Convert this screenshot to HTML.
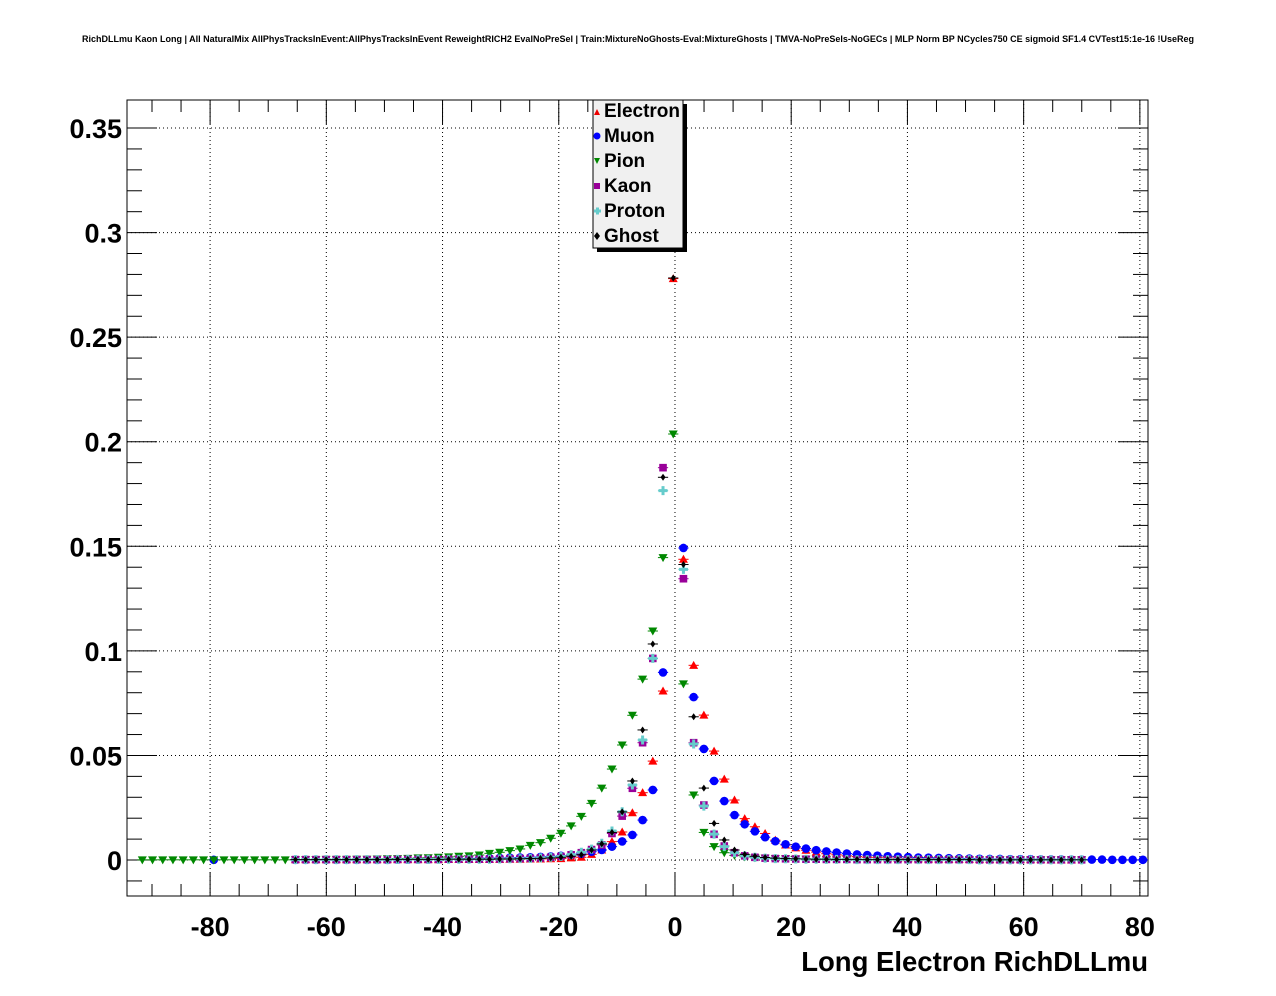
<!DOCTYPE html>
<html><head><meta charset="utf-8"><style>
html,body{margin:0;padding:0;background:#fff}
svg{display:block;font-family:"Liberation Sans",Arial,sans-serif}
</style></head><body>
<svg id="chart" width="1276" height="996" viewBox="0 0 1276 996">
<rect x="0" y="0" width="1276" height="996" fill="#fff"/>
<text x="638" y="42" text-anchor="middle" font-size="9" font-weight="bold">RichDLLmu Kaon Long | All NaturalMix AllPhysTracksInEvent:AllPhysTracksInEvent ReweightRICH2 EvalNoPreSel | Train:MixtureNoGhosts-Eval:MixtureGhosts | TMVA-NoPreSels-NoGECs | MLP Norm BP NCycles750 CE sigmoid SF1.4 CVTest15:1e-16 !UseReg</text>
<g id="grid"></g>
<g id="axes"></g>
<g id="marks"></g>
<text x="1148" y="971" text-anchor="end" font-size="27.5" font-weight="bold">Long Electron RichDLLmu</text>
<g>
<rect x="597" y="104" width="90" height="148" fill="#000"/>
<rect x="593" y="100" width="90" height="148" fill="#f0f0f0" stroke="#000" stroke-width="1"/>
<polygon points="594,115 597,109 600,115" fill="#e00"/>
<text x="604" y="117" font-size="19" font-weight="bold">Electron</text>
<circle cx="597" cy="136" r="3.5" fill="#00f"/>
<text x="604" y="142" font-size="19" font-weight="bold">Muon</text>
<polygon points="594,158 600,158 597,164" fill="#080"/>
<text x="604" y="167" font-size="19" font-weight="bold">Pion</text>
<rect x="594" y="183" width="6" height="6" fill="#909"/>
<text x="604" y="192" font-size="19" font-weight="bold">Kaon</text>
<path d="M594,211 h7 M597.5,207.5 v7" stroke="#6cc" stroke-width="3"/>
<text x="604" y="217" font-size="19" font-weight="bold">Proton</text>
<polygon points="597,232 600,236 597,240 594,236" fill="#000"/>
<text x="604" y="242" font-size="19" font-weight="bold">Ghost</text>
</g>
</svg>
<script>
const xTicks = [-80,-60,-40,-20,0,20,40,60,80];
const yTicks = [0,0.05,0.1,0.15,0.2,0.25,0.3,0.35];
const yTickLabels = ["0","0.05","0.1","0.15","0.2","0.25","0.3","0.35"];
const nBins = 100;
const xMin = -94.3, xMax = 81.4;
const electronStart = 16;
const electron = [.0002,.0002,.0002,.0002,.0002,.0002,.0002,.0002,.0002,.0002,
.0002,.0002,.0002,.0002,.0002,.0003,.0003,.0003,.0003,.0003,
.0003,.0004,.0004,.0005,.0005,.0006,.0007,
.0010,.0013,.0027,.0048,.0088,.0134,.0226,.0322,.0473,.0808,
.2780,.1438,.0931,.0693,.0521,.0387,.0287,.0198,.0159,.0127,
.0095,.0072,.0058,.0047,.0038,.0030,.0025,.0020,.0016,.0013,
.0011,.0010,.0008,.0007,.0006,.0005,.0005,.0004,.0004,.0003,
.0003,.0003,.0002,.0002,.0002,.0002,.0002,.0001,.0001,.0001];
const muonStart = 8;
const muon = [.0001,null,null,null,null,null,null,null,
.0001,.0001,.0001,.0001,.0001,.0001,.0001,.0001,.0001,.0001,
.0002,.0002,.0003,.0003,.0004,
.0005,.0006,.0007,.0008,.0009,.0010,.0011,.0012,.0013,.0015,
.0017,.0020,.0024,.0030,.0040,.0048,.0064,.0089,.0120,.0191,
.0335,.0897,null,
.1492,.0779,.0531,.0378,.0282,.0215,.0171,.0137,.0109,.0090,
.0075,.0064,.0055,.0047,.0041,.0036,.0031,.0027,.0024,.0021,
.0018,.0016,.0014,.0012,.0011,.0010,.0009,.0008,.0007,.0006,
.0005,.0005,.0004,.0004,.0004,.0003,.0003,.0003,.0002,.0002,
.0002,.0002,.0001,.0001,.0001,.0001];
const pionStart = 1;
const pion = [.0001,.0001,.0001,.0001,.0001,.0001,.0001,.0001,.0001,.0001,.0001,.0001,.0001,.0001,.0001,
.0002,.0002,.0002,.0003,.0003,.0003,.0004,.0004,.0005,
.0006,.0007,.0008,.0010,.0011,.0013,.0015,.0018,.0020,.0024,
.0032,.0037,.0045,.0053,.0070,.0083,.0104,.0128,.0163,.0209,
.0271,.0344,.0435,.0550,.0692,.0865,.1095,.1446,.2037,
.0842,.0311,.0132,.0064,.0035,.0022,
.0015,.0011,.0009,.0007,.0006,.0005,.0004,.0004,.0003,.0003,
.0003,.0002,.0002,.0002,.0002,.0002,.0002,.0002,.0002,.0002,
.0002,.0002,.0002,.0001,.0001,.0001,.0001,.0001,.0001,.0001,.0001,.0001,.0001,.0001];
const kaonStart = 16;
const kaon = [.0002,.0002,.0002,.0002,.0002,.0002,.0002,.0002,.0002,.0002,
.0003,.0003,.0003,.0003,.0003,.0004,.0004,.0004,.0004,.0004,
.0005,.0006,.0007,.0008,.0010,.0013,.0017,
.0025,.0035,.0050,.0072,.0127,.0210,.0343,.0561,.0964,.1876,
null,.1345,.0561,.0263,.0123,.0067,.0035,.0020,.0013,.0009,
.0007,.0006,.0005,.0004,.0004,.0003,.0003,.0003,.0002,.0002,
.0002,.0002,.0002,.0002,.0002,.0002,.0002,.0002,.0002,.0002,
.0001,.0001,.0001,.0001,.0001,.0001,.0001,.0001,.0001,.0001,.0001];
const protonStart = 16;
const proton = [.0002,.0002,.0002,.0002,.0002,.0002,.0002,.0002,.0002,.0002,
.0003,.0003,.0003,.0003,.0003,.0004,.0004,.0004,.0004,.0004,
.0005,.0006,.0007,.0008,.0010,.0013,.0017,
.0026,.0037,.0052,.0080,.0139,.0231,.0359,.0574,.0964,.1766,
null,.1390,.0555,.0258,.0124,.0064,.0035,.0020,.0013,.0009,
.0007,.0006,.0005,.0004,.0004,.0003,.0003,.0003,.0002,.0002,
.0002,.0002,.0002,.0002,.0002,.0002,.0002,.0002,.0002,.0002,
.0001,.0001,.0001,.0001,.0001,.0001,.0001,.0001,.0001,.0001,.0001];
const ghostStart = 16;
const ghost = [.0002,.0002,.0002,.0002,.0002,.0002,.0002,.0002,.0002,.0002,
.0003,.0003,.0003,.0003,.0003,.0004,.0004,.0004,.0004,.0004,
.0005,.0005,.0006,.0007,.0008,.0010,.0013,
.0018,.0025,.0048,.0077,.0132,.0230,.0378,.0622,.1033,.1830,
.2783,.1413,.0685,.0344,.0175,.0096,.0048,.0027,.0018,.0012,
.0009,.0007,.0006,.0005,.0004,.0004,.0003,.0003,.0003,.0002,
.0002,.0002,.0002,.0002,.0002,.0002,.0002,.0002,.0002,.0002,
.0001,.0001,.0001,.0001,.0001,.0001,.0001,.0001,.0001,.0001,.0001];

const L=127,R=1148,T=100,B=896;
const yMin=-0.0172,yMax=0.3634;
const xs=v=>L+(v-xMin)/(xMax-xMin)*(R-L);
const ys=v=>B-(v-yMin)/(yMax-yMin)*(B-T);
const binW=(xMax-xMin)/nBins;
const binCenter=i=>xMin+(i+0.5)*binW;
const NS="http://www.w3.org/2000/svg";
function mk(tag,attrs,parent){const e=document.createElementNS(NS,tag);for(const k in attrs)e.setAttribute(k,attrs[k]);parent.appendChild(e);return e;}
const grid=document.getElementById('grid'),axes=document.getElementById('axes'),marks=document.getElementById('marks');
xTicks.forEach(t=>{const g=mk('line',{x1:xs(t),x2:xs(t),y1:T,y2:B,stroke:'#000','stroke-width':1,'stroke-dasharray':'1,3'},grid);

});
yTicks.forEach(t=>{const g=mk('line',{x1:L,x2:R,y1:ys(t),y2:ys(t),stroke:'#000','stroke-width':1,'stroke-dasharray':'1,3'},grid);

});
const fr=mk('rect',{x:L,y:T,width:R-L,height:B-T,fill:'none',stroke:'#000','stroke-width':1},axes);


for(let v=-90;v<=80;v+=5){const major=v%20===0;const len=major?24:12;const x=xs(v);
mk('line',{x1:x,x2:x,y1:B,y2:B-len,stroke:'#000','stroke-width':1},axes);
mk('line',{x1:x,x2:x,y1:T,y2:T+len,stroke:'#000','stroke-width':1},axes);}
for(let k=-1;k<=35;k++){const v=k*0.01;if(v<yMin||v>yMax)continue;const major=k%5===0;const len=major?30:15;const y=ys(v);
mk('line',{x1:L,x2:L+len,y1:y,y2:y,stroke:'#000','stroke-width':1},axes);
mk('line',{x1:R,x2:R-len,y1:y,y2:y,stroke:'#000','stroke-width':1},axes);}
xTicks.forEach(t=>{const e=mk('text',{x:xs(t),y:936,'text-anchor':'middle','font-size':27,'font-weight':'bold'},axes);e.textContent=String(t);

});
yTicks.forEach((t,i)=>{const e=mk('text',{x:122,y:ys(t)+10,'text-anchor':'end','font-size':27,'font-weight':'bold'},axes);e.textContent=yTickLabels[i];

});
function marker(g,type,x,y,c){
 if(type==='tri-up')mk('polygon',{points:`${x-4.5},${y+3.5} ${x},${y-4.5} ${x+4.5},${y+3.5}`,fill:c},g);
 else if(type==='tri-down')mk('polygon',{points:`${x-4.5},${y-3.5} ${x},${y+4.5} ${x+4.5},${y-3.5}`,fill:c},g);
 else if(type==='circle')mk('circle',{cx:x,cy:y,r:4.3,fill:c},g);
 else if(type==='square')mk('rect',{x:x-3.8,y:y-3.8,width:7.6,height:7.6,fill:c},g);
 else if(type==='cross')mk('path',{d:`M${x-4.5},${y} h9 M${x},${y-4.5} v9`,stroke:c,'stroke-width':3},g);
 else mk('polygon',{points:`${x},${y-3.5} ${x+2.5},${y} ${x},${y+3.5} ${x-2.5},${y}`,fill:c},g);
}
function series(name,vals,start,color,type){
 const g=mk('g',{},marks);
 
 
 vals.forEach((v,j)=>{if(v===null)return;const i=start+j;const c=binCenter(i);const x=xs(c),y=ys(v);
  mk('line',{x1:xs(c-binW/2),x2:xs(c+binW/2),y1:y,y2:y,stroke:color,'stroke-width':1},g);
  marker(g,type,x,y,color);});
}
series('electron',electron,electronStart,'#f00','tri-up');
series('muon',muon,muonStart,'#00f','circle');
series('pion',pion,pionStart,'#080','tri-down');
series('kaon',kaon,kaonStart,'#909','square');
series('proton',proton,protonStart,'#6cc','cross');
series('ghost',ghost,ghostStart,'#000','diamond');
</script>
</body></html>
